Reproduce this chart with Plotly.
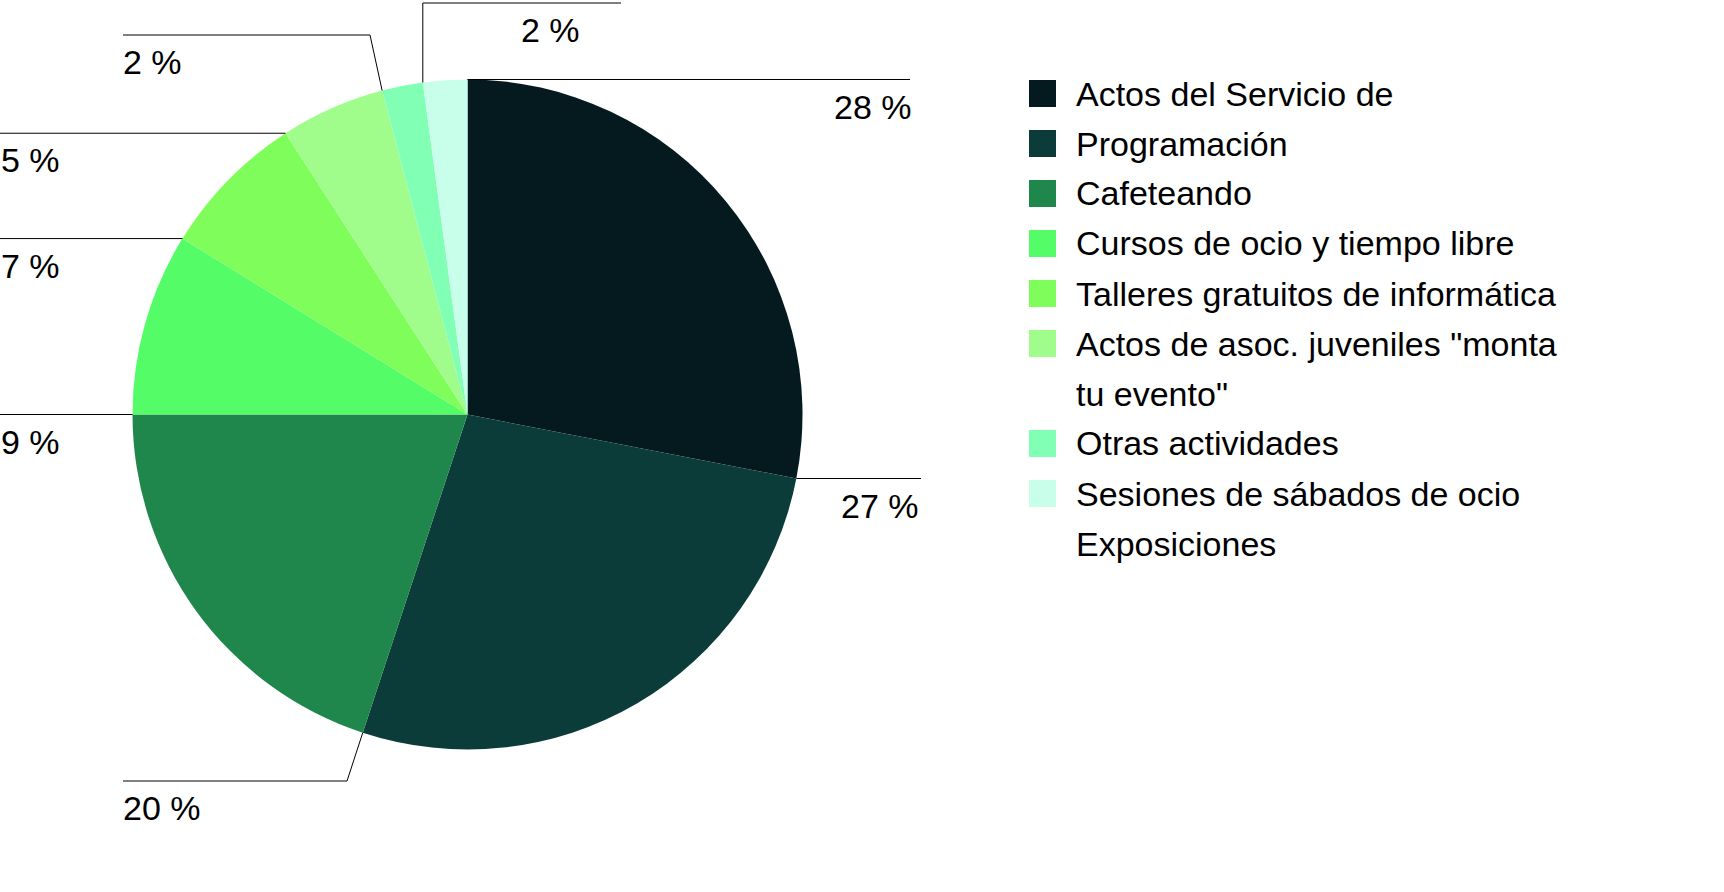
import math
import plotly.graph_objects as go

# ---------------- data ----------------
categories = [
    "Actos del Servicio de",
    "Programación",
    "Cafeteando",
    "Cursos de ocio y tiempo libre",
    "Talleres gratuitos de informática",
    'Actos de asoc. juveniles "monta\ntu evento"',
    "Otras actividades",
    "Sesiones de sábados de ocio\nExposiciones",
]
values = [28.06, 27.0, 19.94, 8.8, 7.06, 5.04, 1.97, 2.13]
colors = ["#041A1F", "#0C3C39", "#1F874B", "#54FD67", "#7FFE5B", "#A0FD8C", "#80FFB5", "#C7FFEB"]

# ---------------- layout constants (pixels) ----------------
W, H = 1724, 892
CX, CY, R = 467.5, 414.5, 335.0
FONT = "Liberation Sans, Arial, Helvetica, sans-serif"
FS = 34

def px(x):
    return x / W

def py(y):
    return 1 - y / H

# label placement rules per slice: optional elbow point, end x, text anchor side
label_layout = [
    dict(elbow=None, end_x=910, text_x=913, anchor="right"),
    dict(elbow=None, end_x=921, text_x=920, anchor="right"),
    dict(elbow=(347, 781), end_x=123, text_x=122, anchor="left"),
    dict(elbow=None, end_x=0, text_x=0, anchor="left"),
    dict(elbow=None, end_x=0, text_x=0, anchor="left"),
    dict(elbow=None, end_x=0, text_x=0, anchor="left"),
    dict(elbow=(370, 35), end_x=123, text_x=122, anchor="left"),
    dict(elbow="vertical", elbow_y=3, end_x=621, text_x=520, anchor="left"),
]
LABEL_DY = 27

fig = go.Figure()
fig.add_trace(go.Pie(
    labels=[c.replace("\n", " ") for c in categories],
    values=values,
    sort=False,
    direction="clockwise",
    rotation=0,
    textinfo="none",
    marker=dict(colors=colors, line=dict(width=0)),
    domain=dict(x=[px(CX - R), px(CX + R)], y=[py(CY + R), py(CY - R)]),
    showlegend=False,
    hoverinfo="label+percent",
))

shapes = []
annotations = []
total = sum(values)
cum = 0.0
for v, lay in zip(values, label_layout):
    theta = math.radians(360.0 * cum / total)
    sx = CX + R * math.sin(theta)
    sy = CY - R * math.cos(theta)
    pts = [(sx, sy)]
    if lay["elbow"] == "vertical":
        pts.append((sx, lay["elbow_y"]))
    elif lay["elbow"] is not None:
        pts.append(lay["elbow"])
    ey = pts[-1][1]
    pts.append((lay["end_x"], ey))
    for (x0, y0), (x1, y1) in zip(pts[:-1], pts[1:]):
        shapes.append(dict(type="line", xref="paper", yref="paper",
                           x0=px(x0), y0=py(y0), x1=px(x1), y1=py(y1),
                           line=dict(color="#000000", width=1)))
    annotations.append(dict(
        xref="paper", yref="paper", x=px(lay["text_x"]), y=py(ey + LABEL_DY),
        xanchor=lay["anchor"], yanchor="middle", showarrow=False,
        text=f"{round(v)} %", font=dict(family=FONT, size=FS, color="#000000"),
        borderpad=0,
    ))
    cum += v

# ---------------- custom legend ----------------
LEG_X_SW, SW = 1029, 27
LEG_X_TXT = 1075
ROW0, ROW_H = 93.5, 50
row = 0
for name, col in zip(categories, colors):
    lines = name.split("\n")
    yc = ROW0 + ROW_H * row
    shapes.append(dict(type="rect", xref="paper", yref="paper",
                       x0=px(LEG_X_SW), x1=px(LEG_X_SW + SW),
                       y0=py(yc - SW / 2), y1=py(yc + SW / 2),
                       fillcolor=col, line=dict(width=0)))
    for ln in lines:
        yl = ROW0 + ROW_H * row
        annotations.append(dict(
            xref="paper", yref="paper", x=px(LEG_X_TXT), y=py(yl),
            xanchor="left", yanchor="middle", showarrow=False,
            text=ln, font=dict(family=FONT, size=FS, color="#000000"),
            borderpad=0,
        ))
        row += 1

fig.update_layout(
    width=W, height=H,
    margin=dict(l=0, r=0, t=0, b=0),
    paper_bgcolor="#ffffff",
    plot_bgcolor="#ffffff",
    shapes=shapes,
    annotations=annotations,
    font=dict(family=FONT, size=FS, color="#000000"),
)

fig.write_html("out.html")
